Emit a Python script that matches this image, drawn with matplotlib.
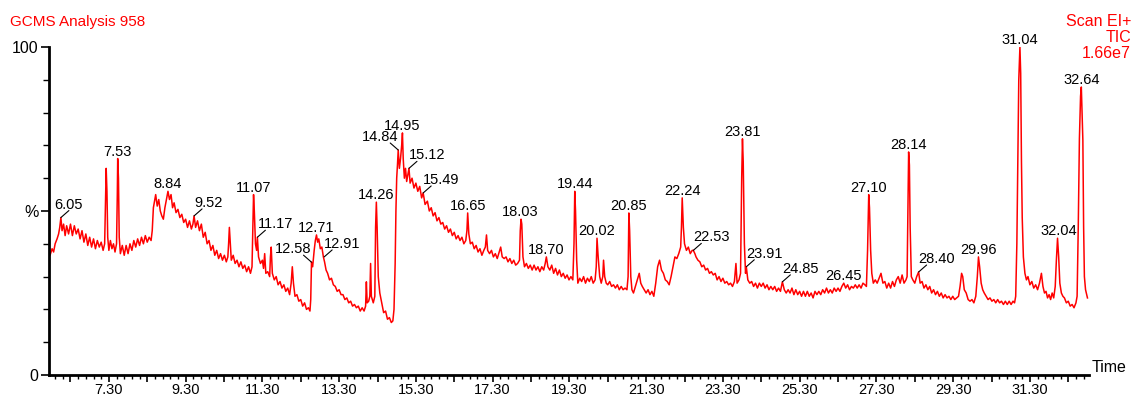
import numpy as np
import matplotlib
matplotlib.use('Agg')
import matplotlib.pyplot as plt

plt.rcParams['font.family'] = ['Liberation Sans', 'DejaVu Sans']

# TIC trace: (retention time [min], relative abundance [%])
tic_points = [
    (5.77, 36.6), (5.82, 38.5), (5.86, 37.5), (5.9, 40), (5.95, 41.5), (5.99, 43), (6.02, 45), (6.05, 48),
    (6.08, 44), (6.12, 46), (6.16, 42.5), (6.2, 45.5), (6.25, 43), (6.3, 46), (6.35, 42.5), (6.4, 45.5),
    (6.45, 43), (6.5, 44.5), (6.55, 41.5), (6.6, 44), (6.65, 40.5), (6.7, 43), (6.75, 39.5), (6.8, 42),
    (6.85, 39), (6.9, 41.5), (6.95, 38.5), (7.0, 41), (7.05, 39), (7.1, 40.5), (7.15, 38), (7.19, 40),
    (7.21, 52), (7.23, 63), (7.25, 56), (7.27, 42), (7.3, 38), (7.34, 41), (7.38, 38.5), (7.42, 40),
    (7.46, 37.5), (7.5, 40), (7.52, 55), (7.53, 66), (7.55, 60), (7.57, 42), (7.6, 37), (7.65, 39.5),
    (7.7, 36.5), (7.75, 39.5), (7.8, 37), (7.85, 40), (7.9, 38), (7.95, 41), (8.0, 39), (8.05, 41.5),
    (8.1, 39.5), (8.15, 42), (8.2, 40), (8.25, 42.5), (8.3, 40.5), (8.35, 42), (8.4, 41), (8.43, 44),
    (8.46, 51), (8.49, 53), (8.52, 55), (8.56, 51.5), (8.6, 53.5), (8.64, 50), (8.68, 48.5), (8.72, 47.5),
    (8.76, 51), (8.8, 53.5), (8.84, 56), (8.88, 53.5), (8.92, 55), (8.96, 51), (9.0, 52.5), (9.05, 49.5),
    (9.1, 50.5), (9.15, 48), (9.2, 49), (9.25, 46.5), (9.3, 47.5), (9.35, 45), (9.4, 47), (9.45, 44.5),
    (9.49, 46), (9.52, 48.5), (9.56, 45), (9.61, 47), (9.66, 44), (9.71, 46), (9.76, 42), (9.81, 43.5),
    (9.86, 40), (9.91, 41), (9.96, 38), (10.01, 39.5), (10.06, 36.5), (10.11, 38), (10.16, 35.5), (10.21, 37),
    (10.26, 35), (10.31, 36.5), (10.36, 34.5), (10.4, 36), (10.42, 40), (10.44, 45), (10.46, 41), (10.49, 35),
    (10.54, 36.5), (10.59, 34), (10.64, 35), (10.69, 33), (10.74, 34.5), (10.79, 32.5), (10.84, 33.5), (10.89, 31.5),
    (10.94, 33), (10.99, 31), (11.03, 33), (11.05, 44), (11.07, 55), (11.09, 50), (11.12, 40), (11.15, 38),
    (11.17, 42), (11.2, 36), (11.25, 34), (11.3, 35), (11.33, 32.5), (11.36, 37), (11.39, 31), (11.44, 31.5),
    (11.49, 30), (11.51, 36), (11.53, 39), (11.56, 31), (11.61, 29), (11.66, 30), (11.71, 27.5), (11.76, 28.5),
    (11.81, 26.5), (11.86, 27.5), (11.91, 25.5), (11.96, 26.5), (12.01, 24.5), (12.05, 28), (12.08, 33), (12.11, 28),
    (12.15, 24), (12.2, 24.5), (12.25, 22.5), (12.3, 23), (12.35, 21), (12.4, 22), (12.45, 20), (12.5, 20.5),
    (12.54, 19.5), (12.56, 23), (12.58, 34.4), (12.61, 33), (12.65, 38), (12.68, 41), (12.71, 42.7), (12.74, 40.5),
    (12.77, 41.5), (12.81, 38.5), (12.85, 39), (12.89, 36), (12.92, 34.5), (12.96, 32), (13.0, 31), (13.05, 29),
    (13.1, 29.5), (13.15, 27.5), (13.2, 27), (13.25, 25.5), (13.3, 26), (13.35, 24.5), (13.4, 24.5), (13.45, 23),
    (13.5, 23.5), (13.55, 22), (13.6, 22.5), (13.65, 21), (13.7, 21.5), (13.75, 20.5), (13.8, 21), (13.85, 19.5),
    (13.9, 20.5), (13.95, 19.5), (13.99, 21), (14.01, 28.4), (14.03, 22), (14.07, 22.5), (14.1, 24), (14.12, 34),
    (14.14, 24), (14.19, 22), (14.23, 24), (14.25, 45), (14.27, 52.7), (14.29, 45), (14.32, 30), (14.36, 25),
    (14.41, 22), (14.46, 19), (14.51, 19.5), (14.56, 17), (14.61, 17.5), (14.66, 16), (14.7, 16.5), (14.73, 20),
    (14.76, 34), (14.78, 50), (14.8, 60), (14.82, 64), (14.84, 68.6), (14.87, 63), (14.9, 66), (14.93, 70),
    (14.95, 73.8), (14.97, 66), (15.0, 60), (15.03, 63), (15.06, 59), (15.09, 61), (15.12, 63), (15.15, 58.5),
    (15.2, 60), (15.25, 57), (15.3, 58.5), (15.35, 56), (15.4, 57.5), (15.45, 54), (15.49, 55.5), (15.54, 52),
    (15.6, 53), (15.65, 50), (15.7, 51), (15.75, 48.5), (15.8, 49.5), (15.85, 47), (15.9, 48), (15.95, 46),
    (16.0, 46.5), (16.05, 44.5), (16.1, 45.5), (16.15, 43.5), (16.2, 44.5), (16.25, 42.5), (16.3, 43.5), (16.35, 41.5),
    (16.4, 42.5), (16.45, 41), (16.5, 42), (16.55, 40), (16.6, 41), (16.63, 44), (16.65, 49.4), (16.68, 43),
    (16.72, 40), (16.77, 40.5), (16.82, 38.5), (16.87, 39.5), (16.92, 37.5), (16.97, 38.5), (17.02, 36.5), (17.07, 38),
    (17.11, 39), (17.14, 42.7), (17.17, 38), (17.22, 37), (17.27, 38), (17.32, 36), (17.37, 37), (17.42, 35.5),
    (17.47, 37.5), (17.51, 39), (17.55, 36), (17.6, 35.5), (17.65, 36), (17.7, 34.5), (17.75, 35.5), (17.8, 34),
    (17.85, 35), (17.9, 33.5), (17.95, 34), (18.0, 35), (18.02, 44), (18.04, 47.5), (18.06, 46), (18.09, 36),
    (18.13, 33), (18.18, 34), (18.23, 32.5), (18.28, 33.5), (18.33, 32), (18.38, 33.5), (18.43, 32), (18.48, 33),
    (18.53, 31.5), (18.58, 33), (18.63, 32), (18.67, 34), (18.7, 36), (18.74, 33), (18.79, 32), (18.84, 33.5),
    (18.89, 31), (18.94, 32.5), (18.99, 30.5), (19.04, 32), (19.09, 30), (19.14, 31), (19.19, 29.5), (19.24, 30.5),
    (19.29, 29), (19.34, 30), (19.39, 29), (19.42, 40), (19.44, 56), (19.46, 50), (19.49, 35), (19.52, 28),
    (19.57, 29.5), (19.62, 28.5), (19.67, 30), (19.72, 28), (19.77, 29.5), (19.82, 28.5), (19.87, 30), (19.92, 28),
    (19.97, 29), (20.0, 33), (20.02, 41.7), (20.05, 36), (20.09, 30), (20.13, 28), (20.17, 30), (20.19, 35),
    (20.22, 30), (20.26, 28), (20.3, 27.5), (20.35, 28.5), (20.4, 27), (20.45, 27.5), (20.5, 26.5), (20.55, 27.5),
    (20.6, 26), (20.65, 27), (20.7, 26), (20.75, 26.5), (20.8, 26), (20.83, 30), (20.85, 49.4), (20.87, 44),
    (20.9, 30), (20.93, 26), (20.97, 25), (21.02, 27), (21.07, 29), (21.12, 31), (21.16, 28), (21.2, 27),
    (21.25, 26), (21.3, 25), (21.35, 26), (21.4, 24.5), (21.45, 25.5), (21.5, 24), (21.55, 28), (21.6, 33),
    (21.65, 35), (21.7, 32), (21.75, 31), (21.8, 29), (21.85, 28.5), (21.9, 27.5), (21.95, 30), (22.0, 33),
    (22.05, 36), (22.1, 35.5), (22.15, 37), (22.2, 39), (22.22, 45), (22.24, 54), (22.27, 45), (22.3, 40),
    (22.35, 38), (22.4, 39), (22.45, 37), (22.5, 38), (22.53, 38), (22.57, 37), (22.6, 36), (22.65, 35),
    (22.7, 34.5), (22.75, 33), (22.8, 33.5), (22.85, 32), (22.9, 32.5), (22.95, 31), (23.0, 31.5), (23.05, 30.5),
    (23.1, 31), (23.15, 29), (23.2, 30), (23.25, 28.5), (23.3, 29.5), (23.35, 28), (23.4, 28.5), (23.45, 27.5),
    (23.5, 28), (23.55, 27), (23.6, 28.5), (23.64, 34), (23.67, 28), (23.72, 29), (23.76, 31), (23.79, 60),
    (23.81, 72), (23.83, 65), (23.86, 40), (23.89, 31), (23.91, 33), (23.95, 29), (24.0, 28), (24.05, 28.5),
    (24.1, 27), (24.15, 28), (24.2, 26.5), (24.25, 28), (24.3, 27), (24.35, 28), (24.4, 26.5), (24.45, 27.5),
    (24.5, 26), (24.55, 27), (24.6, 26), (24.65, 27), (24.7, 25.5), (24.75, 26.5), (24.8, 25.5), (24.85, 28.4),
    (24.9, 26), (24.95, 25), (25.0, 26), (25.05, 25), (25.1, 26.5), (25.15, 24.5), (25.2, 26), (25.25, 24.5),
    (25.3, 25.5), (25.35, 24), (25.4, 25.5), (25.45, 24), (25.5, 25.5), (25.55, 24), (25.6, 25), (25.65, 23.5),
    (25.7, 25.5), (25.75, 24.5), (25.8, 25.5), (25.85, 24.5), (25.9, 26), (25.95, 25), (26.0, 26.5), (26.05, 25),
    (26.1, 26), (26.15, 25), (26.2, 26.5), (26.25, 25.5), (26.3, 26.5), (26.35, 25.5), (26.4, 27), (26.45, 28),
    (26.5, 26.5), (26.55, 27.5), (26.6, 26), (26.65, 27), (26.7, 26.5), (26.75, 27.5), (26.8, 26.5), (26.85, 27.5),
    (26.9, 26.5), (26.95, 28), (27.0, 27.5), (27.04, 27), (27.07, 38), (27.1, 55), (27.12, 51), (27.15, 38),
    (27.18, 31), (27.22, 28), (27.27, 29), (27.32, 28), (27.37, 29.5), (27.42, 31), (27.47, 28), (27.52, 28.5),
    (27.57, 26.5), (27.62, 28), (27.67, 26.5), (27.72, 28.5), (27.77, 27), (27.82, 29), (27.87, 30), (27.92, 28),
    (27.97, 30.5), (28.02, 28), (28.07, 29), (28.1, 30), (28.12, 50), (28.14, 68), (28.16, 64), (28.18, 45),
    (28.21, 30), (28.25, 29), (28.3, 28), (28.35, 30), (28.4, 31.4), (28.44, 28), (28.49, 28.5), (28.54, 26.5),
    (28.59, 27.5), (28.64, 26), (28.69, 27), (28.74, 25), (28.79, 26), (28.84, 24.5), (28.89, 25.5), (28.94, 24),
    (28.99, 25), (29.04, 23.5), (29.09, 24.5), (29.14, 23.5), (29.19, 24), (29.24, 23), (29.29, 24), (29.34, 23),
    (29.39, 23.5), (29.44, 24), (29.48, 27), (29.52, 31), (29.55, 30), (29.59, 26), (29.64, 25), (29.69, 23),
    (29.74, 22.5), (29.79, 23), (29.84, 22), (29.89, 24), (29.93, 30), (29.96, 36), (29.99, 33), (30.03, 28),
    (30.07, 26), (30.11, 25), (30.16, 24), (30.21, 23), (30.26, 23.5), (30.31, 22.5), (30.36, 23), (30.41, 22),
    (30.46, 23), (30.51, 22), (30.56, 22.5), (30.61, 21.5), (30.66, 22.5), (30.71, 21.5), (30.76, 22.5), (30.81, 21.5),
    (30.86, 22.5), (30.9, 22), (30.93, 24), (30.96, 40), (30.99, 70), (31.01, 90), (31.04, 100), (31.06, 92),
    (31.08, 65), (31.1, 48), (31.13, 36), (31.17, 31), (31.21, 29), (31.25, 30), (31.3, 27.5), (31.35, 28.5),
    (31.4, 26.5), (31.45, 27.5), (31.5, 26), (31.55, 28), (31.6, 31), (31.64, 27), (31.68, 25), (31.72, 25.5),
    (31.76, 23.5), (31.8, 24.5), (31.84, 23), (31.88, 25), (31.92, 23.5), (31.96, 27), (31.99, 35), (32.02, 41.7),
    (32.05, 36), (32.08, 28), (32.12, 25), (32.16, 24), (32.2, 23.5), (32.25, 22), (32.3, 22.5), (32.35, 21),
    (32.4, 21.5), (32.45, 20.5), (32.5, 22), (32.53, 24), (32.56, 45), (32.59, 72), (32.62, 85), (32.64, 87.8),
    (32.66, 80), (32.68, 71.6), (32.7, 45), (32.72, 30), (32.75, 26), (32.78, 24.5), (32.8, 23.5),
]
ret_time = np.array([p[0] for p in tic_points])
abundance = np.array([p[1] for p in tic_points])

# peak labels and how they are placed:
# c = centred above the peak, r / l = leader line to the right / left, m = leader, text centred on its end
peak_labels = ['6.05', '7.53', '8.84', '9.52', '11.07', '11.17', '12.58', '12.71', '12.91', '14.26',
               '14.84', '14.95', '15.12', '15.49', '16.65', '18.03', '18.70', '19.44', '20.02', '20.85',
               '22.24', '22.53', '23.81', '23.91', '24.85', '26.45', '27.10', '28.14', '28.40', '29.96',
               '31.04', '32.04', '32.64']
label_side = ['m', 'c', 'c', 'r', 'c', 'r', 'l', 'c', 'r', 'c',
              'l', 'c', 'r', 'r', 'c', 'c', 'c', 'c', 'c', 'c',
              'c', 'r', 'c', 'r', 'r', 'c', 'c', 'c', 'r', 'c',
              'c', 'c', 'c']

fig = plt.figure(figsize=(11.32, 3.96), dpi=100)
ax = fig.add_axes([49 / 1132, 21 / 396, 1040 / 1132, 328 / 396])

ax.plot(ret_time, abundance, color='#ff0000', lw=1.1)
ax.set_xlim(5.74, 32.84)
ax.set_ylim(0, 100)

# axes frame: only left and bottom, heavy black lines
for side in ['top', 'right']:
    ax.spines[side].set_visible(False)
for side in ['left', 'bottom']:
    ax.spines[side].set_linewidth(2)

# x ticks every minute, labelled every second minute, minor every 0.2 min
major_x = 6.3 + np.arange(27)
ax.set_xticks(major_x, [f'{v:.2f}' if i % 2 == 1 else '' for i, v in enumerate(major_x)])
ax.set_xticks(6.3 + 0.2 * np.arange(-2, 133), minor=True)
ax.set_yticks([0, 50, 100], ['0', '%', '100'])
ax.set_yticks([10, 20, 30, 40, 60, 70, 80, 90], minor=True)
ax.tick_params(axis='x', which='major', length=5, width=1.2, labelsize=10.5, pad=0.5)
ax.tick_params(axis='x', which='minor', length=3, width=1)
ax.tick_params(axis='y', which='major', length=6, width=1.2, labelsize=11.5, pad=1.5)
ax.tick_params(axis='y', which='minor', length=4, width=1)

# peak labels
line_kw = dict(arrowstyle='-', color='black', lw=0.8, shrinkA=0, shrinkB=0)
for lab, side in zip(peak_labels, label_side):
    t = float(lab)
    near = (ret_time >= t - 0.035) & (ret_time <= t + 0.035)
    top = abundance[near].max()
    if side == 'c':
        ax.annotate(lab, (t, top), xytext=(0, 3), textcoords='offset pixels', ha='center',
                    va='baseline', fontsize=10.5, annotation_clip=False)
        continue
    dx = -8 if side == 'l' else 8
    ax.annotate('', (t, top), xytext=(dx, 7), textcoords='offset pixels', arrowprops=line_kw,
                annotation_clip=False)
    if side == 'm':
        ax.annotate(lab, (t, top), xytext=(dx, 9), textcoords='offset pixels', ha='center',
                    va='baseline', fontsize=10.5, annotation_clip=False)
    else:
        ax.annotate(lab, (t, top), xytext=(0, 9), textcoords='offset pixels',
                    ha='right' if side == 'l' else 'left', va='baseline', fontsize=10.5,
                    annotation_clip=False)

# header texts
fig.text(10 / 1132, 1 - 22 / 396, 'GCMS Analysis 958', color='#ff0000', fontsize=11, va='center')
fig.text(1131 / 1132, 1 - 22 / 396, 'Scan EI+', color='#ff0000', fontsize=11.5, va='center', ha='right')
fig.text(1131 / 1132, 1 - 38 / 396, 'TIC', color='#ff0000', fontsize=11.5, va='center', ha='right')
fig.text(1131 / 1132, 1 - 54 / 396, '1.66e7', color='#ff0000', fontsize=11.5, va='center', ha='right')
fig.text(1092 / 1132, 1 - 368 / 396, 'Time', fontsize=11.5, va='center')

fig.savefig('out.png', dpi=100)
